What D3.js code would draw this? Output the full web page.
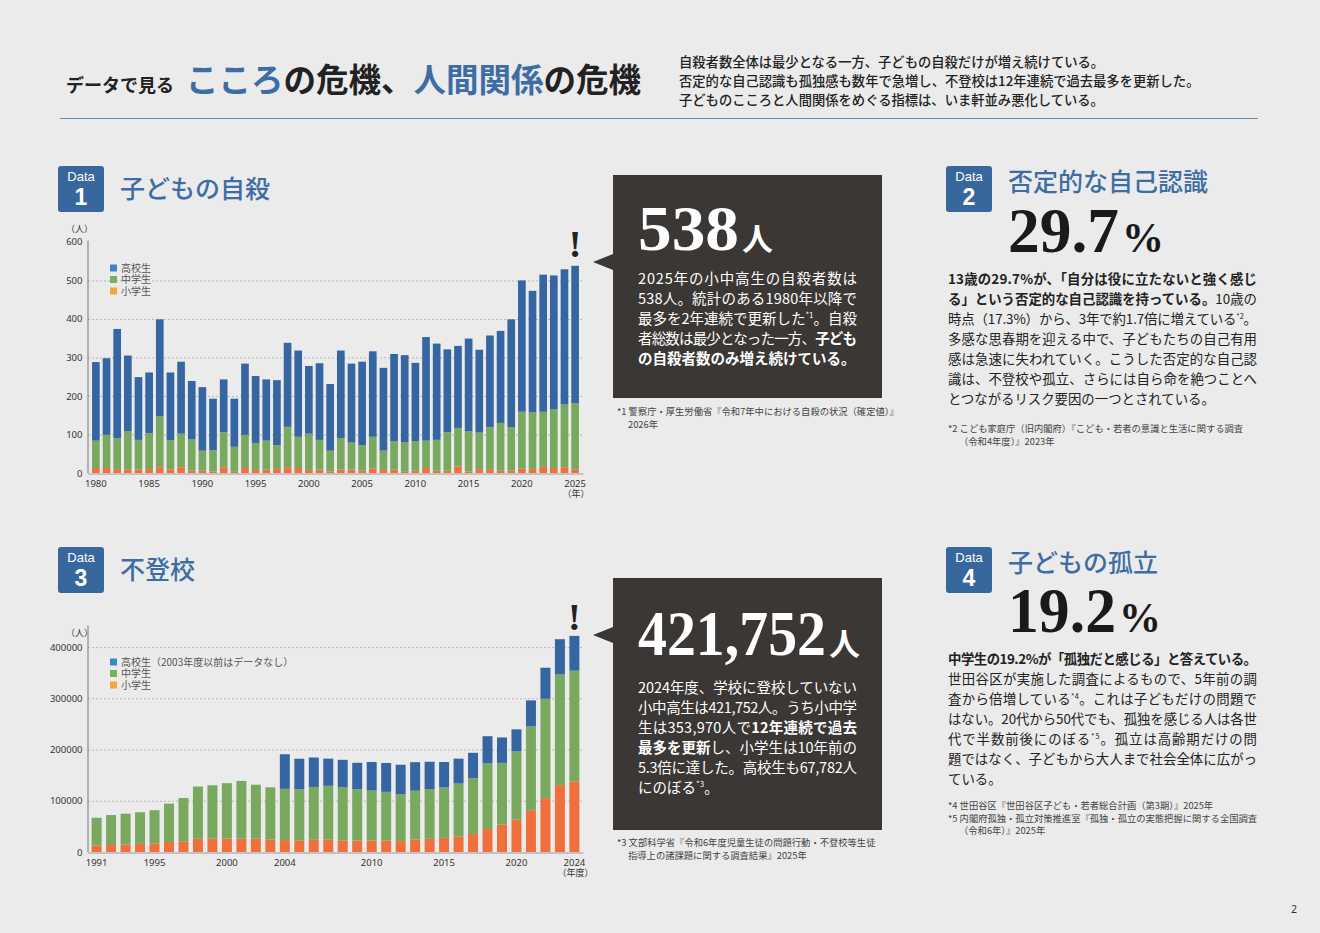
<!DOCTYPE html>
<html>
<head>
<meta charset="utf-8">
<script src="https://cdn.jsdelivr.net/npm/d3@7"></script>
<style>
  body { margin: 0; background: #ebebeb; }
  svg { display: block; font-family: "Noto Sans CJK JP", "Noto Sans", sans-serif; }
</style>
</head>
<body>
<div id="page"></div>
<script>
// ---- data ----
var suicideYears = [1980, 1981, 1982, 1983, 1984, 1985, 1986, 1987, 1988, 1989,
    1990, 1991, 1992, 1993, 1994, 1995, 1996, 1997, 1998, 1999,
    2000, 2001, 2002, 2003, 2004, 2005, 2006, 2007, 2008, 2009,
    2010, 2011, 2012, 2013, 2014, 2015, 2016, 2017, 2018, 2019,
    2020, 2021, 2022, 2023, 2024, 2025];
var suicideElem = [13, 13, 10, 9, 9, 10, 15, 9, 15, 6,
    6, 4, 15, 3, 13, 8, 9, 10, 15, 13,
    8, 9, 4, 9, 9, 6, 12, 8, 9, 3,
    6, 13, 6, 6, 17, 4, 10, 10, 6, 6,
    12, 10, 16, 13, 15, 9];
var suicideJunior = [71, 86, 80, 100, 77, 93, 132, 76, 87, 81,
    52, 55, 91, 65, 86, 70, 75, 62, 105, 81,
    94, 77, 54, 82, 70, 66, 82, 50, 73, 77,
    77, 71, 80, 100, 100, 104, 95, 109, 124, 113,
    147, 148, 143, 152, 163, 172];
var suicideHigh = [204, 199, 284, 196, 163, 158, 252, 176, 187, 152,
    165, 134, 137, 125, 185, 174, 159, 169, 218, 224,
    176, 199, 173, 227, 205, 217, 222, 215, 227, 226,
    203, 269, 250, 215, 213, 241, 215, 238, 239, 280,
    341, 315, 356, 348, 351, 357];
var suicideYTicks = [0, 100, 200, 300, 400, 500, 600];
var suicideXTicks = [1980, 1985, 1990, 1995, 2000, 2005, 2010, 2015, 2020, 2025];

var absenceYears = [1991, 1992, 1993, 1994, 1995, 1996, 1997, 1998, 1999, 2000,
    2001, 2002, 2003, 2004, 2005, 2006, 2007, 2008, 2009, 2010,
    2011, 2012, 2013, 2014, 2015, 2016, 2017, 2018, 2019, 2020,
    2021, 2022, 2023, 2024];
var absenceElem = [12600, 13700, 14800, 15800, 16600, 19500, 20800, 26000, 26000, 26400,
    26500, 25900, 24100, 23300, 22700, 23800, 23900, 22700, 22300, 22500,
    22600, 21200, 24200, 25900, 27600, 30400, 35000, 45000, 53500, 63400,
    81500, 105100, 130400, 137704];
var absenceJunior = [54200, 58400, 60000, 61700, 65000, 74900, 84700, 101700, 104200, 107900,
    112200, 105400, 102100, 100000, 99600, 103100, 105300, 104200, 100100, 97400,
    94800, 91400, 95400, 97000, 98400, 103200, 109000, 128000, 120400, 132800,
    163400, 193900, 216100, 216266];
var absenceHigh = [null, null, null, null, null, null, null, null, null, null,
    null, null, null, 67500, 59700, 57500, 53000, 53000, 51700, 55800,
    56400, 57700, 55700, 53200, 49600, 48600, 49600, 53000, 49600, 43100,
    51000, 60600, 68800, 67782];
var absenceYTicks = [0, 100000, 200000, 300000, 400000];
var absenceXTicks = [1991, 1995, 2000, 2004, 2010, 2015, 2020, 2024];

var keys = ['elem', 'junior', 'high'];
var barColors = { elem: '#f0703d', junior: '#78a95e', high: '#3666a1' };
var legendColors = { elem: '#f5a53b', junior: '#76b15e', high: '#3c86c7' };

var BLUE = '#3d6da4';
var BADGE = '#38679d';
var BOX = '#3a3735';

var svg = d3.select('#page')
    .append('svg')
    .attr('width', 1320)
    .attr('height', 933);

// ---- helpers ----
function table(years, e, j, h) {
    return years.map(function (yr, i) {
        return { year: yr, elem: e[i] || 0, junior: j[i] || 0, high: h[i] || 0 };
    });
}

function drawChart(opt) {
    var g = svg.append('g');
    var rows = table(opt.years, opt.elem, opt.junior, opt.high);
    var x = d3.scaleBand()
        .domain(opt.years)
        .range([88, 583])
        .paddingInner(opt.pi)
        .paddingOuter(opt.po);
    var y = d3.scaleLinear()
        .domain(opt.yDomain)
        .range(opt.yRange);

    // grid
    g.selectAll('.grid')
        .data(opt.yTicks.filter(function (d) { return d > 0 && d < opt.gridMax; }))
        .enter().append('line')
        .attr('x1', 88).attr('x2', 583)
        .attr('y1', function (d) { return y(d) + 0.5; })
        .attr('y2', function (d) { return y(d) + 0.5; })
        .attr('stroke', '#a9a9a9')
        .attr('stroke-width', 0.8)
        .attr('stroke-dasharray', '2,2');

    var stack = d3.stack().keys(keys)(rows);
    g.selectAll('.layer')
        .data(stack)
        .enter().append('g')
        .attr('fill', function (d) { return barColors[d.key]; })
        .selectAll('rect')
        .data(function (d) { return d.filter(function (p) { return p[1] > p[0]; }); })
        .enter().append('rect')
        .attr('x', function (d) { return x(d.data.year); })
        .attr('width', x.bandwidth())
        .attr('y', function (d) { return y(d[1]); })
        .attr('height', function (d) { return y(d[0]) - y(d[1]); });

    // y axis
    var ya = g.append('g')
        .attr('transform', 'translate(87.5,0)')
        .call(d3.axisLeft(y).tickValues(opt.yTicks).tickFormat(d3.format('d'))
            .tickSize(0).tickSizeOuter(0).tickPadding(5));
    ya.select('.domain').attr('stroke', '#8a8a8a').attr('stroke-width', 1.2);
    ya.selectAll('text').attr('font-family', '"Noto Sans", sans-serif')
        .attr('font-size', 9.5).attr('fill', '#333');

    // x axis
    var xa = g.append('g')
        .attr('transform', 'translate(0,' + (opt.yRange[0] + 0.5) + ')')
        .call(d3.axisBottom(x).tickValues(opt.xTicks).tickSize(0).tickSizeOuter(0).tickPadding(7));
    xa.select('.domain').attr('stroke', '#9a9a9a').attr('stroke-width', 1);
    xa.selectAll('text').attr('font-family', '"Noto Sans", sans-serif')
        .attr('font-size', 9.5).attr('fill', '#333');

    var last = opt.years[opt.years.length - 1];
    var cx = x(last) + x.bandwidth() / 2;
    g.append('text')
        .attr('x', cx + 1).attr('y', opt.yRange[0] + 24)
        .attr('text-anchor', 'middle')
        .attr('font-size', 9).attr('fill', '#333')
        .text(opt.xUnit);
    g.append('text')
        .attr('x', 66).attr('y', opt.unitY)
        .attr('font-size', 9).attr('fill', '#333')
        .text('（人）');

    // exclamation
    g.append('text')
        .attr('x', cx).attr('y', opt.bangY)
        .attr('text-anchor', 'middle')
        .attr('font-family', '"Liberation Serif", serif')
        .attr('font-weight', 700)
        .attr('font-size', 38)
        .attr('fill', '#222')
        .text('!');

    // legend
    var lg = g.append('g').attr('transform', 'translate(110,' + opt.legendY + ')');
    var items = ['high', 'junior', 'elem'];
    items.forEach(function (k, i) {
        lg.append('rect')
            .attr('x', 0).attr('y', i * 11.5 - 3.5)
            .attr('width', 7).attr('height', 7)
            .attr('fill', legendColors[k]);
        lg.append('text')
            .attr('x', 11).attr('y', i * 11.5 + 3.6)
            .attr('font-size', 10).attr('fill', '#555')
            .text(opt.legend[i]);
    });
}

function badge(x, y, num) {
    svg.append('rect')
        .attr('x', x).attr('y', y)
        .attr('width', 46).attr('height', 46)
        .attr('rx', 3)
        .attr('fill', BADGE);
    svg.append('text')
        .attr('x', x + 23).attr('y', y + 15)
        .attr('text-anchor', 'middle')
        .attr('font-family', '"Liberation Sans", sans-serif')
        .attr('font-size', 13).attr('fill', '#fff')
        .text('Data');
    svg.append('text')
        .attr('x', x + 23).attr('y', y + 39)
        .attr('text-anchor', 'middle')
        .attr('font-family', '"Liberation Sans", sans-serif')
        .attr('font-weight', 700)
        .attr('font-size', 23).attr('fill', '#fff')
        .text(num);
}

function title(x, y, s) {
    svg.append('text')
        .attr('x', x).attr('y', y)
        .attr('font-size', 25).attr('font-weight', 500)
        .attr('fill', BLUE)
        .text(s);
}

// big serif figure fitted to a width, then its unit
function bigNumber(x, y, num, w, unit, color, unitSerif) {
    svg.append('text')
        .attr('x', x).attr('y', y)
        .attr('fill', color)
        .attr('font-family', '"Liberation Serif", serif')
        .attr('font-weight', 700)
        .attr('font-size', 63)
        .attr('textLength', w)
        .attr('lengthAdjust', 'spacingAndGlyphs')
        .text(num);
    svg.append('text')
        .attr('x', x + w + 3).attr('y', y)
        .attr('fill', color)
        .attr('font-family', unitSerif ? '"Liberation Serif", serif' : '"Noto Sans CJK JP", sans-serif')
        .attr('font-weight', 700)
        .attr('font-size', unitSerif ? 42 : 31)
        .text(unit);
}

// lines: array of segments; a segment is a string, ['b', s] (bold) or ['s', s] (superscript)
function para(x, y0, lh, width, lines, full, size, color) {
    lines.forEach(function (segs, i) {
        var t = svg.append('text')
            .attr('x', x).attr('y', y0 + i * lh)
            .attr('font-size', size)
            .attr('fill', color);
        if (full[i]) t.attr('textLength', width).attr('lengthAdjust', 'spacing');
        var shift = 0;
        segs.forEach(function (s) {
            var sp = t.append('tspan');
            if (typeof s === 'string') {
                sp.text(s);
                if (shift) { sp.attr('dy', shift); shift = 0; }
            } else if (s[0] === 'b') {
                sp.text(s[1]).attr('font-weight', 700);
                if (shift) { sp.attr('dy', shift); shift = 0; }
            } else {
                sp.text(s[1]).attr('font-size', size * 0.55).attr('dy', -size * 0.4);
                shift = size * 0.4;
            }
        });
    });
}

function notes(x, y0, lines) {
    lines.forEach(function (l, i) {
        svg.append('text')
            .attr('x', x + (l[0] ? 0 : 11)).attr('y', y0 + i * 12.5)
            .attr('font-size', 9.3).attr('fill', '#444')
            .text(l[1]);
    });
}

function callout(x, y, w, h, tipY) {
    svg.append('rect')
        .attr('x', x).attr('y', y)
        .attr('width', w).attr('height', h)
        .attr('fill', BOX);
    svg.append('path')
        .attr('d', 'M' + x + ',' + (tipY - 8) + 'L' + (x - 20) + ',' + tipY + 'L' + x + ',' + (tipY + 8) + 'Z')
        .attr('fill', BOX);
}

// ---- header ----
var head = svg.append('text').attr('x', 66).attr('y', 92).attr('font-weight', 700);
head.append('tspan').attr('font-size', 18).attr('fill', '#222').text('データで見る');
head.append('tspan').attr('dx', 12).attr('font-size', 32.5).attr('fill', BLUE).text('こころ');
head.append('tspan').attr('font-size', 32.5).attr('fill', '#222').text('の危機、');
head.append('tspan').attr('font-size', 32.5).attr('fill', BLUE).text('人間関係');
head.append('tspan').attr('font-size', 32.5).attr('fill', '#222').text('の危機');

var headLines = [
    '自殺者数全体は最少となる一方、子どもの自殺だけが増え続けている。',
    '否定的な自己認識も孤独感も数年で急増し、不登校は12年連続で過去最多を更新した。',
    '子どものこころと人間関係をめぐる指標は、いま軒並み悪化している。'
];
headLines.forEach(function (s, i) {
    svg.append('text')
        .attr('x', 679).attr('y', 67 + i * 19)
        .attr('font-size', 13.3).attr('font-weight', 500)
        .attr('fill', '#222')
        .text(s);
});

svg.append('line')
    .attr('x1', 60).attr('x2', 1258)
    .attr('y1', 118.5).attr('y2', 118.5)
    .attr('stroke', '#6a8cb4').attr('stroke-width', 1.2);

// ---- Data 1 ----
badge(58, 166, '1');
title(120, 198, '子どもの自殺');
drawChart({
    years: suicideYears, elem: suicideElem, junior: suicideJunior, high: suicideHigh,
    pi: 0.28, po: 0.38,
    yDomain: [0, 605], yRange: [473, 240], yTicks: suicideYTicks, gridMax: 600,
    xTicks: suicideXTicks, xUnit: '（年）', unitY: 232, bangY: 257,
    legendY: 268, legend: ['高校生', '中学生', '小学生']
});

callout(613, 175, 269, 223, 262);
bigNumber(638, 250, '538', 101, '人', '#fff', false);
para(638, 284, 20, 219, [
    ['2025年の小中高生の自殺者数は'],
    ['538人。統計のある1980年以降で'],
    ['最多を2年連続で更新した', ['s', '*1'], '。自殺'],
    ['者総数は最少となった一方、', ['b', '子ども']],
    [['b', 'の自殺者数のみ増え続けている。']]
], [1, 1, 1, 1, 0], 14.5, '#fff');
notes(617, 415, [
    [1, '*1 警察庁・厚生労働省『令和7年中における自殺の状況（確定値）』'],
    [0, '2026年']
]);

// ---- Data 2 ----
badge(946, 166, '2');
title(1008, 191, '否定的な自己認識');
bigNumber(1008, 252, '29.7', 111, '%', '#1a1a1a', true);
para(948, 284, 20, 309, [
    [['b', '13歳の29.7%が、「自分は役に立たないと強く感じ']],
    [['b', 'る」という否定的な自己認識を持っている。'], '10歳の'],
    ['時点（17.3%）から、3年で約1.7倍に増えている', ['s', '*2'], '。'],
    ['多感な思春期を迎える中で、子どもたちの自己有用'],
    ['感は急速に失われていく。こうした否定的な自己認'],
    ['識は、不登校や孤立、さらには自ら命を絶つことへ'],
    ['とつながるリスク要因の一つとされている。']
], [1, 1, 1, 1, 1, 1, 0], 13.4, '#222');
notes(948, 432, [
    [1, '*2 こども家庭庁（旧内閣府）『こども・若者の意識と生活に関する調査'],
    [0, '（令和4年度）』2023年']
]);

// ---- Data 3 ----
badge(58, 547, '3');
title(120, 579, '不登校');
drawChart({
    years: absenceYears, elem: absenceElem, junior: absenceJunior, high: absenceHigh,
    pi: 0.31, po: 0.25,
    yDomain: [0, 443000], yRange: [852, 625], yTicks: absenceYTicks, gridMax: 443000,
    xTicks: absenceXTicks, xUnit: '（年度）', unitY: 636, bangY: 630,
    legendY: 662, legend: ['高校生（2003年度以前はデータなし）', '中学生', '小学生']
});

callout(613, 578, 269, 252, 635);
bigNumber(638, 655, '421,752', 188, '人', '#fff', false);
para(638, 693, 20, 219, [
    ['2024年度、学校に登校していない'],
    ['小中高生は421,752人。うち小中学'],
    ['生は353,970人で', ['b', '12年連続で過去']],
    [['b', '最多を更新'], 'し、小学生は10年前の'],
    ['5.3倍に達した。高校生も67,782人'],
    ['にのぼる', ['s', '*3'], '。']
], [1, 1, 1, 1, 1, 0], 14.5, '#fff');
notes(617, 846, [
    [1, '*3 文部科学省『令和6年度児童生徒の問題行動・不登校等生徒'],
    [0, '指導上の諸課題に関する調査結果』2025年']
]);

// ---- Data 4 ----
badge(946, 547, '4');
title(1008, 572, '子どもの孤立');
bigNumber(1008, 632, '19.2', 108, '%', '#1a1a1a', true);
para(948, 664, 20, 309, [
    [['b', '中学生の19.2%が「孤独だと感じる」と答えている。']],
    ['世田谷区が実施した調査によるもので、5年前の調'],
    ['査から倍増している', ['s', '*4'], '。これは子どもだけの問題で'],
    ['はない。20代から50代でも、孤独を感じる人は各世'],
    ['代で半数前後にのぼる', ['s', '*5'], '。孤立は高齢期だけの問'],
    ['題ではなく、子どもから大人まで社会全体に広がっ'],
    ['ている。']
], [1, 1, 1, 1, 1, 1, 0], 13.4, '#222');
notes(948, 809, [
    [1, '*4 世田谷区『世田谷区子ども・若者総合計画（第3期）』2025年'],
    [1, '*5 内閣府孤独・孤立対策推進室『孤独・孤立の実態把握に関する全国調査'],
    [0, '（令和6年）』2025年']
]);

// page number
svg.append('text')
    .attr('x', 1294).attr('y', 913)
    .attr('text-anchor', 'middle')
    .attr('font-family', '"Noto Sans", sans-serif')
    .attr('font-size', 10.5).attr('fill', '#333')
    .text('2');
</script>
</body>
</html>
